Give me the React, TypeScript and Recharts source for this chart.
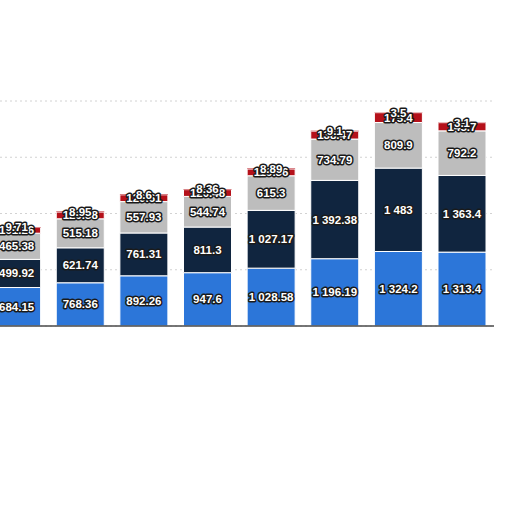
import React from "react";
import {
	BarChart,
	Bar,
	XAxis,
	YAxis,
	CartesianGrid,
	LabelList,
} from "recharts";

const periods = ["P1", "P2", "P3", "P4", "P5", "P6", "P7", "P8"];
const blueValues = [684.15, 768.36, 892.26, 947.6, 1028.58, 1196.19, 1324.2, 1313.4];
const navyValues = [499.92, 621.74, 761.31, 811.3, 1027.17, 1392.38, 1483, 1363.4];
const grayValues = [465.38, 515.18, 557.93, 544.74, 615.3, 734.79, 809.9, 792.2];
const redValues = [101.26, 120.38, 120.61, 120.48, 119.36, 138.47, 175.4, 145.7];
const topValues = [9.71, 8.95, 8.6, 8.36, 8.89, 9.1, 3.5, 3.1];
const yTicks = [0, 1000, 2000, 3000];

const data = periods.map((p, i) => ({
	period: p,
	blue: blueValues[i],
	navy: navyValues[i],
	gray: grayValues[i],
	red: redValues[i],
	top: topValues[i],
}));

// 1392.38 -> "1 392.38"
const formatValue = (v: number) => {
	const [int, dec] = String(v).split(".");
	const grouped = int.replace(/\B(?=(\d{3})+(?!\d))/g, " ");
	return dec ? `${grouped}.${dec}` : grouped;
};

const renderLabel = (props: any) => {
	const vb = props.viewBox || {};
	const x = props.x ?? vb.x;
	const y = props.y ?? vb.y;
	const width = props.width ?? vb.width;
	const height = props.height ?? vb.height;
	if (props.value == null) return null;
	return (
		<text
			x={x + width / 2}
			y={y + height / 2}
			textAnchor="middle"
			dominantBaseline="central"
			fontFamily="'Liberation Sans', Arial, sans-serif"
			fontWeight="bold"
			fontSize={11.5}
			fill="#ffffff"
			stroke="#1a1a1a"
			strokeWidth={3}
			strokeLinejoin="round"
			style={{ paintOrder: "stroke" }}
		>
			{formatValue(Number(props.value))}
		</text>
	);
};

const App = () => {
	return (
		<div
			style={{
				position: "absolute",
				left: 0,
				top: 0,
				width: 512,
				height: 512,
				overflow: "hidden",
				background: "#ffffff",
			}}
		>
			<div style={{ position: "absolute", left: -15, top: 0 }}>
				<BarChart
					width={509}
					height={512}
					data={data}
					margin={{ top: 101, right: 0, bottom: 185, left: 0 }}
					barCategoryGap="12%"
				>
					<CartesianGrid
						vertical={false}
						stroke="#d2d2d2"
						strokeDasharray="2 3"
					/>
					<XAxis
						dataKey="period"
						tick={false}
						tickLine={false}
						height={1}
						stroke="#4a4a4a"
						strokeWidth={1.5}
					/>
					<YAxis hide domain={[0, 4000]} ticks={yTicks} />
					<Bar dataKey="blue" stackId="a" fill="#2c76d9" stroke="#ffffff" strokeWidth={1} isAnimationActive={false}>
						<LabelList dataKey="blue" content={renderLabel} />
					</Bar>
					<Bar dataKey="navy" stackId="a" fill="#10253f" stroke="#ffffff" strokeWidth={1} isAnimationActive={false}>
						<LabelList dataKey="navy" content={renderLabel} />
					</Bar>
					<Bar dataKey="gray" stackId="a" fill="#bdbdbd" stroke="#ffffff" strokeWidth={1} isAnimationActive={false}>
						<LabelList dataKey="gray" content={renderLabel} />
					</Bar>
					<Bar dataKey="red" stackId="a" fill="#b5111a" stroke="#ffffff" strokeWidth={1} isAnimationActive={false}>
						<LabelList dataKey="red" content={renderLabel} />
					</Bar>
					<Bar dataKey="top" stackId="a" fill="#b5111a" isAnimationActive={false}>
						<LabelList dataKey="top" content={renderLabel} />
					</Bar>
				</BarChart>
			</div>
		</div>
	);
};

export default App;
